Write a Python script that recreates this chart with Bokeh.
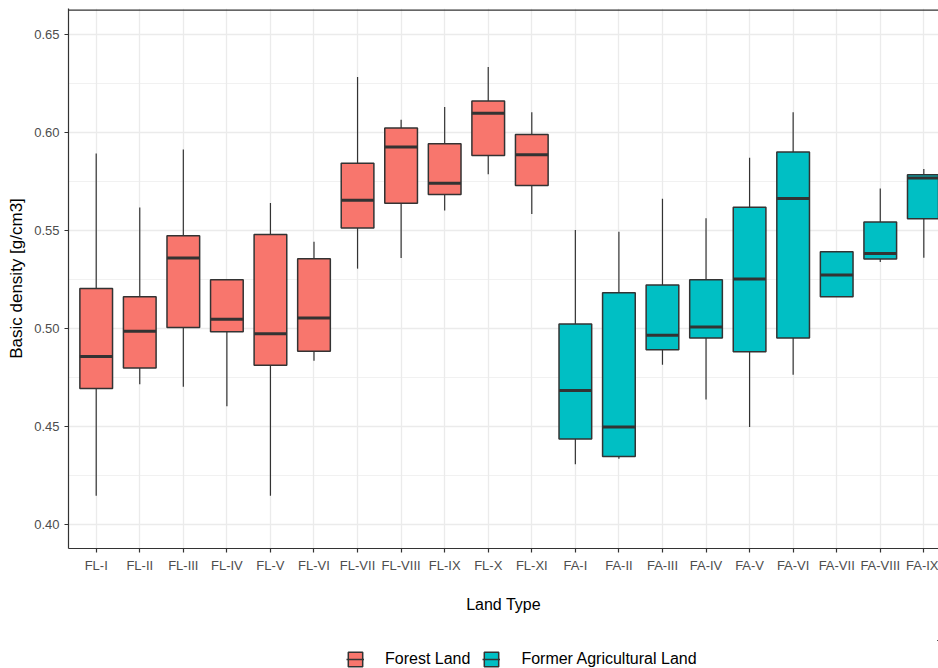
from bokeh.plotting import figure
from bokeh.layouts import column
from bokeh.models import (ColumnDataSource, Range1d, FixedTicker, Legend,
                          LegendItem, Span)
from bokeh.embed import file_html
from bokeh.resources import INLINE

categories = ["FL-I", "FL-II", "FL-III", "FL-IV", "FL-V", "FL-VI", "FL-VII",
              "FL-VIII", "FL-IX", "FL-X", "FL-XI",
              "FA-I", "FA-II", "FA-III", "FA-IV", "FA-V", "FA-VI", "FA-VII",
              "FA-VIII", "FA-IX"]
groups = ["Forest Land"] * 11 + ["Former Agricultural Land"] * 9
lower = [0.4144, 0.4714, 0.4701, 0.4602, 0.4144, 0.4834, 0.5305, 0.5359,
         0.5602, 0.5788, 0.5584,
         0.4305, 0.4334, 0.4814, 0.4637, 0.4496, 0.4763, 0.5162, 0.5339, 0.5361]
q1 = [0.4692, 0.4797, 0.5004, 0.4982, 0.4812, 0.4883, 0.5513, 0.5639,
      0.5684, 0.5883, 0.5730,
      0.4434, 0.4345, 0.4891, 0.4951, 0.4881, 0.4951, 0.5162, 0.5354, 0.5560]
median = [0.4856, 0.4985, 0.5359, 0.5047, 0.4973, 0.5053, 0.5655, 0.5927,
          0.5741, 0.6099, 0.5887,
          0.4682, 0.4496, 0.4965, 0.5007, 0.5252, 0.5664, 0.5272, 0.5383, 0.5768]
q3 = [0.5203, 0.5162, 0.5473, 0.5248, 0.5480, 0.5356, 0.5843, 0.6024,
      0.5943, 0.6162, 0.5991,
      0.5022, 0.5182, 0.5221, 0.5248, 0.5619, 0.5901, 0.5392, 0.5544, 0.5785]
upper = [0.5894, 0.5617, 0.5914, 0.5248, 0.5641, 0.5442, 0.6285, 0.6066,
         0.6131, 0.6336, 0.6104,
         0.5502, 0.5493, 0.5662, 0.5562, 0.5872, 0.6104, 0.5392, 0.5714, 0.5814]
y_ticks = [0.40, 0.45, 0.50, 0.55, 0.60, 0.65]
y_tick_labels = ["0.40", "0.45", "0.50", "0.55", "0.60", "0.65"]
y_minor = [0.375, 0.425, 0.475, 0.525, 0.575, 0.625, 0.675]
group_names = ["Forest Land", "Former Agricultural Land"]
group_colors = ["#F8766D", "#00BFC4"]

FONT = "Liberation Sans"
DARK = "#333333"
BOX_W = 0.75

pos = list(range(1, len(categories) + 1))

# ---------------- main chart ----------------
p = figure(width=938, height=640, output_backend="svg", toolbar_location=None,
           x_range=Range1d(0.364, 20.337), y_range=Range1d(0.3875, 0.66344),
           min_border_left=68, min_border_right=0, min_border_top=8,
           min_border_bottom=92)
p.outline_line_color = None
p.background_fill_color = "white"
p.border_fill_color = "white"

xa = p.xaxis[0]
ya = p.yaxis[0]

xa.ticker = FixedTicker(ticks=pos)
xa.major_label_overrides = {x: c for x, c in zip(pos, categories)}
ya.ticker = FixedTicker(ticks=y_ticks, minor_ticks=y_minor)
ya.major_label_overrides = dict(zip(y_ticks, y_tick_labels))
p.xgrid.grid_line_color = "#EBEBEB"
p.xgrid.grid_line_width = 1.3
p.ygrid.grid_line_color = "#EBEBEB"
p.ygrid.grid_line_width = 1.3
p.ygrid.minor_grid_line_color = "#EBEBEB"
p.ygrid.minor_grid_line_width = 0.7

for ax in (xa, ya):
    ax.axis_line_color = DARK
    ax.axis_line_width = 1.2
    ax.major_tick_line_color = DARK
    ax.major_tick_line_width = 1.2
    ax.major_tick_out = 4
    ax.major_tick_in = 0
    ax.minor_tick_line_color = None
    ax.major_label_text_font = FONT
    ax.major_label_text_font_size = "13px"
    ax.major_label_text_color = "#4D4D4D"
    ax.axis_label_text_font = FONT
    ax.axis_label_text_font_style = "normal"
    ax.axis_label_text_color = "black"

xa.major_label_standoff = 5
xa.axis_label = "Land Type"
xa.axis_label_text_font_size = "16px"
xa.axis_label_standoff = 20

ya.major_label_standoff = 5
ya.axis_label = "Basic density [g/cm3]"
ya.axis_label_text_font_size = "17px"
ya.axis_label_standoff = 5

# top panel border
p.add_layout(Span(location=0.6626, dimension="width", line_color=DARK,
                  line_width=1.2))

sources = []
for gname, gcol in zip(group_names, group_colors):
    idx = [i for i, g in enumerate(groups) if g == gname]
    src = ColumnDataSource(dict(
        x=[pos[i] for i in idx],
        xl=[pos[i] - BOX_W / 2 for i in idx],
        xr=[pos[i] + BOX_W / 2 for i in idx],
        lower=[lower[i] for i in idx],
        q1=[q1[i] for i in idx],
        med=[median[i] for i in idx],
        q3=[q3[i] for i in idx],
        upper=[upper[i] for i in idx],
    ))
    sources.append(src)
    p.segment(x0="x", y0="lower", x1="x", y1="upper", source=src,
              line_color=DARK, line_width=1.2)
    p.vbar(x="x", width=BOX_W, bottom="q1", top="q3", source=src,
           fill_color=gcol, line_color=DARK, line_width=1.5)
    p.segment(x0="xl", y0="med", x1="xr", y1="med", source=src,
              line_color=DARK, line_width=3, line_cap="butt")

# ---------------- legend strip ----------------
# same data, drawn into ranges that show nothing: only the legend keys appear
lg = figure(width=938, height=28, output_backend="svg", toolbar_location=None,
            x_range=Range1d(-101, -100), y_range=Range1d(-101, -100),
            x_axis_location=None, y_axis_location=None,
            min_border_left=0, min_border_right=0, min_border_top=0,
            min_border_bottom=0)
lg.outline_line_color = None
lg.grid.visible = False
lg.background_fill_color = "white"
lg.border_fill_color = "white"

items = []
for gname, gcol, src in zip(group_names, group_colors, sources):
    kb = lg.vbar(x="x", width=BOX_W, bottom="q1", top="q3", source=src,
                 fill_color=gcol, line_color=DARK, line_width=1.5)
    km = lg.segment(x0="xl", y0="med", x1="xr", y1="med", source=src,
                    line_color=DARK, line_width=1.5)
    items.append(LegendItem(label=gname, renderers=[kb, km]))

legend = Legend(items=items, location=(278, 0), orientation="horizontal",
                glyph_width=18, glyph_height=18, label_standoff=21, spacing=12,
                padding=0, margin=0, border_line_alpha=0,
                background_fill_alpha=0, label_text_font=FONT,
                label_text_font_size="16px", label_text_color="black")
lg.add_layout(legend)

layout = column(p, lg, spacing=0)
open("out.html", "w").write(file_html(layout, INLINE))
